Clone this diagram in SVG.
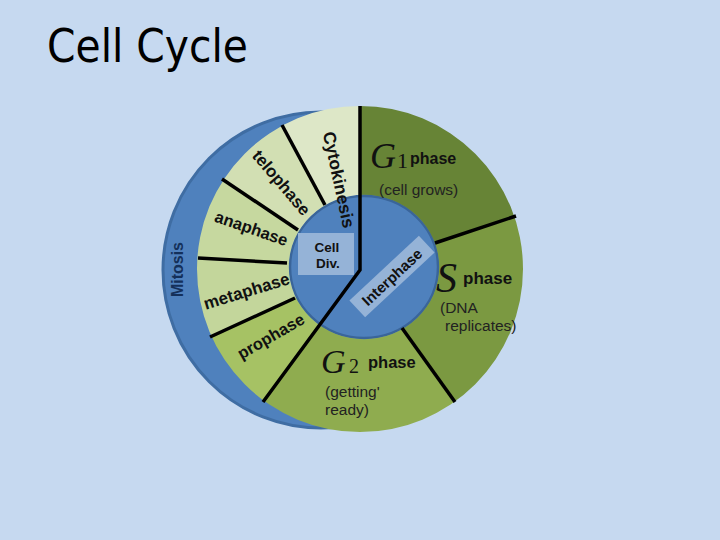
<svg xmlns="http://www.w3.org/2000/svg" width="720" height="540" viewBox="0 0 720 540">
<style>
.lbl{font-family:"Liberation Sans",Arial,sans-serif;font-weight:bold;fill:#111}
.sub{font-family:"Liberation Sans",Arial,sans-serif;fill:#222}
.gl{font-family:"Liberation Serif","Times New Roman",serif;font-style:italic;fill:#111}
.gn{font-family:"Liberation Serif","Times New Roman",serif;fill:#111}
.div{fill:none;stroke:#000;stroke-width:3.5}
.box{fill:#95b3d7}
</style>
<defs>
<clipPath id="ring"><path clip-rule="evenodd" d="M197,269 a163,163 0 1,0 326,0 a163,163 0 1,0 -326,0 Z M288.8,267 a75.2,72.2 0 1,0 150.4,0 a75.2,72.2 0 1,0 -150.4,0 Z"/></clipPath>
</defs>
<rect width="720" height="540" fill="#c6d9f0"/>
<g id="title"><text x="47" y="62" font-family="DejaVu Sans,sans-serif" font-size="46" textLength="201" lengthAdjust="spacingAndGlyphs" fill="#000">Cell Cycle</text></g>
<g id="mitosis">
<circle cx="321" cy="270" r="158" fill="#4f81bd" stroke="#3f6da3" stroke-width="3"/>
<text class="lbl" transform="translate(183,269.5) rotate(-90)" text-anchor="middle" font-size="16" textLength="55" style="fill:#14305a">Mitosis</text>
</g>
<g id="core"><ellipse cx="364" cy="267" rx="74" ry="71" fill="#4f81bd" stroke="#3a659a" stroke-width="2.5"/></g>
<g clip-path="url(#ring)">
<g id="cytokinesis"><path d="M360,268 L360,-60 L206.6,-15.3 L325,205 Z" fill="#dde7c7"/></g>
<g id="telophase"><path d="M325,205 L206.6,-15.3 L90.4,90.7 L298,230 L362,268 Z" fill="#d2dfb3"/></g>
<g id="anaphase"><path d="M298,230 L90.4,90.7 L37.3,249 L287,263 L362,268 Z" fill="#c6d89f"/></g>
<g id="metaphase"><path d="M287,263 L37.3,249 L68,402 L295,298 L362,268 Z" fill="#c3d69b"/></g>
<g id="prophase"><path d="M295,298 L68,402 L212,471.5 L360,270 L362,268 Z" fill="#a6c264"/></g>
<g id="g2"><path d="M360,270 L212,471.5 L547.6,531 L402,328 L362,268 Z" fill="#8fac4f"/></g>
<g id="s"><path d="M402,328 L547.6,531 L672,164 L435,243 L362,268 Z" fill="#7b9941"/></g>
<g id="g1"><path d="M435,243 L672,164 L672,-60 L360,-60 L360,268 L362,268 Z" fill="#678436"/></g>
</g>
<g id="connectors">
<path class="div" d="M360,106 L360,270 L263,402"/>
<path class="div" d="M282,125 L325,205"/>
<path class="div" d="M222,179 L298,230"/>
<path class="div" d="M198,258 L287,263"/>
<path class="div" d="M210,337 L295,298"/>
<path class="div" d="M435,243 L516,216"/>
<path class="div" d="M402,328 L455,402"/>
</g>
<g id="celldiv">
<rect class="box" x="298" y="233" width="56" height="42"/>
<text class="lbl" x="327" y="252" text-anchor="middle" font-size="13.5">Cell</text>
<text class="lbl" x="328" y="268" text-anchor="middle" font-size="13.5">Div.</text>
</g>
<g id="interphase">
<rect class="box" x="-47.5" y="-11.5" width="95" height="23" transform="translate(392,276.5) rotate(-43)"/>
<text class="lbl" transform="translate(395.6,281) rotate(-43)" text-anchor="middle" font-size="15">Interphase</text>
</g>
<g id="labels-mitosis">
<text class="lbl" transform="translate(333,181) rotate(78)" text-anchor="middle" font-size="17.5">Cytokinesis</text>
<text class="lbl" transform="translate(277,186.4) rotate(49.7)" text-anchor="middle" font-size="17">telophase</text>
<text class="lbl" transform="translate(249.5,233.7) rotate(19.2)" text-anchor="middle" font-size="16.5">anaphase</text>
<text class="lbl" transform="translate(248.3,296.7) rotate(-17.1)" text-anchor="middle" font-size="17">metaphase</text>
<text class="lbl" transform="translate(273.7,341.2) rotate(-30)" text-anchor="middle" font-size="16.5">prophase</text>
</g>
<g id="labels-interphase">
<text class="gl" x="370" y="168" font-size="36">G</text>
<text class="gn" x="397" y="168" font-size="22">1</text>
<text class="lbl" x="410" y="164" font-size="16">phase</text>
<text class="sub" x="379" y="195" font-size="15.5">(cell grows)</text>
<text class="gl" x="436" y="292" font-size="42">S</text>
<text class="lbl" x="463" y="284" font-size="17">phase</text>
<text class="sub" x="440" y="313" font-size="15.5">(DNA</text>
<text class="sub" x="445" y="331" font-size="15.5">replicates)</text>
<text class="gl" x="321" y="373" font-size="34">G</text>
<text class="gn" x="349" y="373" font-size="20">2</text>
<text class="lbl" x="368" y="368" font-size="16.5">phase</text>
<text class="sub" x="325" y="397" font-size="15.5">(getting'</text>
<text class="sub" x="325" y="415" font-size="15.5">ready)</text>
</g>
</svg>
